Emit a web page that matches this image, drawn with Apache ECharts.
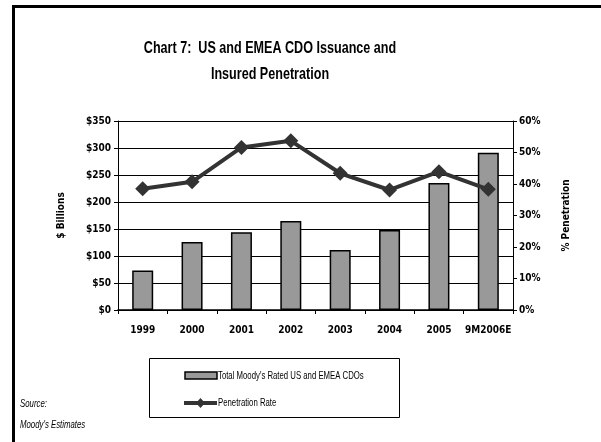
<!DOCTYPE html>
<html><head><meta charset="utf-8">
<script src="https://cdn.jsdelivr.net/npm/echarts@6/dist/echarts.min.js"></script>
<style>html,body{margin:0;padding:0;background:#fff}#c{width:601px;height:442px}</style>
</head><body><div id="c"></div>
<script>
const categories = ['1999','2000','2001','2002','2003','2004','2005','9M2006E'];
const issuance = [73, 126, 144, 165, 111, 148, 235, 291];
const penetration = [38.5, 40.7, 51.6, 53.7, 43.4, 38.1, 43.9, 38.3];
const leftTicks = ['$0','$50','$100','$150','$200','$250','$300','$350'];
const rightTicks = ['0%','10%','20%','30%','40%','50%','60%'];
const titleLines = ['Chart 7:  US and EMEA CDO Issuance and', 'Insured Penetration'];
const F = '"Liberation Sans Narrow","Arial Narrow","DejaVu Sans Condensed",sans-serif';
const FT = '"Liberation Sans",Arial,sans-serif';

function txt(x, y, text, size, opts) {
  opts = opts || {};
  return {type:'text', x:x, y:y, scaleX:opts.sx || 1, scaleY:1,
    style:{x:0, y:0, text:text, fontFamily:opts.font || F, fontSize:size,
      fontWeight:opts.bold ? 'bold' : 'normal', fontStyle:opts.italic ? 'italic' : 'normal',
      fill:'#000', align:opts.align || 'left', verticalAlign:'middle',
      textAlign:opts.align || 'left', textVerticalAlign:'middle'}};
}

const chart = echarts.init(document.getElementById('c'), null, {renderer:'canvas'});
chart.setOption({
  animation:false,
  backgroundColor:'#fff',
  grid:{left:118, right:88, top:121, bottom:132},
  legend:{show:false},
  xAxis:{
    type:'category', data:categories,
    axisLine:{lineStyle:{color:'#000', width:1.5}},
    axisTick:{show:true, length:4, lineStyle:{color:'#000'}},
    axisLabel:{interval:0, fontFamily:F, fontSize:10, fontWeight:'bold', color:'#000', margin:15}
  },
  yAxis:[{
    type:'value', min:0, max:350, interval:50,
    name:'$ Billions', nameLocation:'middle', nameGap:52, nameRotate:90,
    nameTextStyle:{fontFamily:F, fontSize:10, fontWeight:'bold', color:'#000'},
    axisLine:{show:true, lineStyle:{color:'#000'}},
    axisTick:{show:true, length:4, lineStyle:{color:'#000'}},
    axisLabel:{fontFamily:F, fontSize:10, fontWeight:'bold', color:'#000', margin:7,
      formatter:(v)=>leftTicks[v/50]},
    splitLine:{show:true, lineStyle:{color:'#000', width:1}}
  },{
    type:'value', min:0, max:60, interval:10,
    name:'% Penetration', nameLocation:'middle', nameGap:48, nameRotate:90,
    nameTextStyle:{fontFamily:F, fontSize:10, fontWeight:'bold', color:'#000'},
    axisLine:{show:true, lineStyle:{color:'#000'}},
    axisTick:{show:true, length:4, lineStyle:{color:'#000'}},
    axisLabel:{fontFamily:F, fontSize:10, fontWeight:'bold', color:'#000', margin:6,
      formatter:(v)=>rightTicks[v/10]},
    splitLine:{show:false}
  }],
  series:[{
    name:"Total Moody's Rated US and EMEA CDOs", type:'bar', data:issuance, barWidth:21,
    itemStyle:{color:'#999999', borderColor:'#000', borderWidth:1.5}
  },{
    name:'Penetration Rate', type:'line', yAxisIndex:1, data:penetration,
    symbol:'diamond', symbolSize:15,
    lineStyle:{color:'#333333', width:4},
    itemStyle:{color:'#333333'}
  }],
  graphic:[
    {type:'rect', shape:{x:13.5, y:6.5, width:620, height:460}, style:{fill:'none', stroke:'#000', lineWidth:3}},
    txt(270, 48, titleLines[0], 17, {bold:true, font:FT, sx:0.74, align:'center'}),
    txt(270, 74, titleLines[1], 17, {bold:true, font:FT, sx:0.74, align:'center'}),
    {type:'rect', shape:{x:149.5, y:358.5, width:250, height:59}, style:{fill:'#fff', stroke:'#000', lineWidth:1}},
    {type:'rect', shape:{x:185, y:372, width:32, height:7}, style:{fill:'#999999', stroke:'#000', lineWidth:1.5}},
    txt(218, 376, "Total Moody's Rated US and EMEA CDOs", 10.5, {font:FT, sx:0.74}),
    {type:'line', shape:{x1:184, y1:403, x2:217, y2:403}, style:{stroke:'#333333', lineWidth:4}},
    {type:'polygon', shape:{points:[[200.5,398],[205,403],[200.5,408],[196,403]]}, style:{fill:'#333333'}},
    txt(218, 403, 'Penetration Rate', 10.5, {font:FT, sx:0.74}),
    txt(20, 404, 'Source:', 10, {font:FT, italic:true, sx:0.78}),
    txt(20, 425, "Moody's Estimates", 10, {font:FT, italic:true, sx:0.78})
  ]
});
</script></body></html>
